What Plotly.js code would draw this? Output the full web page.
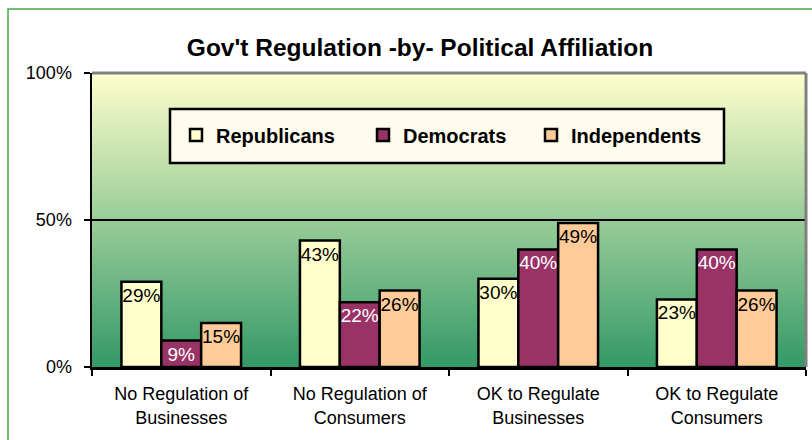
<!DOCTYPE html>
<html>
<head>
<meta charset="utf-8">
<script src="https://cdn.plot.ly/plotly-3.0.1.min.js"></script>
<style>html,body{margin:0;padding:0;background:#fff;}#chart{width:812px;height:440px;}</style>
</head>
<body>
<div id="chart"></div>
<script>
const categories = ["No Regulation of<br>Businesses", "No Regulation of<br>Consumers", "OK to Regulate<br>Businesses", "OK to Regulate<br>Consumers"];
const republicans = [29, 43, 30, 23];
const democrats = [9, 22, 40, 40];
const independents = [15, 26, 49, 26];
const yTickVals = [0, 50, 100];
const yTickText = ["0%", "50%", "100%"];

const FONT = "Arial, 'Liberation Sans', sans-serif";
const W = 812, H = 440, L = 92, R = 6, T = 73, B = 73;
const pw = W - L - R, ph = H - T - B;
const px = v => (v - L) / pw;
const py = v => (H - B - v) / ph;

function barTrace(name, values, fill, textColor, lw) {
  return {
    type: "bar", name: name, x: categories, y: values,
    marker: {color: fill, line: {color: "#000", width: 2.5}},
    text: values.map(v => v + "%"),
    textposition: "inside", insidetextanchor: "end",
    textangle: 0, constraintext: "none", cliponaxis: false,
    textfont: {family: FONT, size: 19, color: textColor},
    hoverinfo: "skip", legendwidth: lw
  };
}

const data = [
  barTrace("Republicans", republicans, "#FFFFCC", "#000", 142),
  barTrace("Democrats", democrats, "#993366", "#FFF", 123),
  barTrace("Independents", independents, "#FFCC99", "#000", 140)
];

const grad = 'data:image/svg+xml;utf8,' + encodeURIComponent(
  '<svg xmlns="http://www.w3.org/2000/svg" width="100" height="100" preserveAspectRatio="none">' +
  '<defs><linearGradient id="g" x1="0" y1="0" x2="0" y2="1">' +
  '<stop offset="0" stop-color="#FFFFCC"/><stop offset="1" stop-color="#339966"/>' +
  '</linearGradient></defs><rect width="100" height="100" fill="url(#g)"/></svg>');

const layout = {
  width: W, height: H,
  margin: {l: L, r: R, t: T, b: B, pad: 0},
  paper_bgcolor: "#FFFFFF",
  plot_bgcolor: "rgba(0,0,0,0)",
  font: {family: FONT, size: 18, color: "#000"},
  title: {
    text: "<b>Gov't Regulation -by- Political Affiliation</b>",
    font: {family: FONT, size: 24.5, color: "#000"},
    xref: "container", x: 420 / W, xanchor: "center",
    yref: "container", y: 1 - 47 / H, yanchor: "middle"
  },
  barmode: "group", bargap: 0.33, bargroupgap: 0,
  showlegend: true,
  legend: {
    orientation: "h", x: px(176), xanchor: "left", y: py(135), yanchor: "middle",
    bgcolor: "rgba(0,0,0,0)", borderwidth: 0,
    font: {family: FONT, size: 20, color: "#000", weight: "bold"},
    traceorder: "normal"
  },
  xaxis: {
    type: "category", tickson: "boundaries",
    showline: true, linecolor: "#000", linewidth: 2.5,
    ticks: "outside", ticklen: 6, tickwidth: 2, tickcolor: "#000",
    showgrid: false, zeroline: false,
    ticklabelstandoff: 9,
    tickfont: {family: FONT, size: 18, color: "#000"}
  },
  yaxis: {
    range: [0, 100], tickvals: yTickVals, ticktext: yTickText,
    showline: true, linecolor: "#000", linewidth: 2.5,
    ticks: "outside", ticklen: 6, tickwidth: 2, tickcolor: "#000",
    showgrid: true, gridcolor: "#000", gridwidth: 2, zeroline: false,
    ticklabelstandoff: 8,
    tickfont: {family: FONT, size: 18, color: "#000"}
  },
  images: [{
    source: grad, xref: "paper", yref: "paper", x: 0, y: 1, sizex: 1, sizey: 1,
    sizing: "stretch", xanchor: "left", yanchor: "top", layer: "below"
  }],
  shapes: [
    {type: "rect", xref: "paper", yref: "paper", x0: px(8), x1: px(830), y0: py(460), y1: py(9),
     line: {color: "#44AA44", width: 1.5}, fillcolor: "rgba(0,0,0,0)", layer: "below"},
    {type: "rect", xref: "paper", yref: "paper", x0: px(170), x1: px(724), y0: py(163), y1: py(109),
     line: {color: "#000", width: 2.5}, fillcolor: "#FFFCEE", layer: "below"},
    {type: "line", xref: "paper", yref: "paper", x0: 0, x1: 1, y0: 1, y1: 1,
     line: {color: "#808080", width: 3}, layer: "above"},
    {type: "line", xref: "paper", yref: "paper", x0: 1, x1: 1, y0: 0, y1: 1,
     line: {color: "#808080", width: 3}, layer: "above"}
  ]
};

Plotly.newPlot("chart", data, layout, {displayModeBar: false, staticPlot: true});
</script>
</body>
</html>
